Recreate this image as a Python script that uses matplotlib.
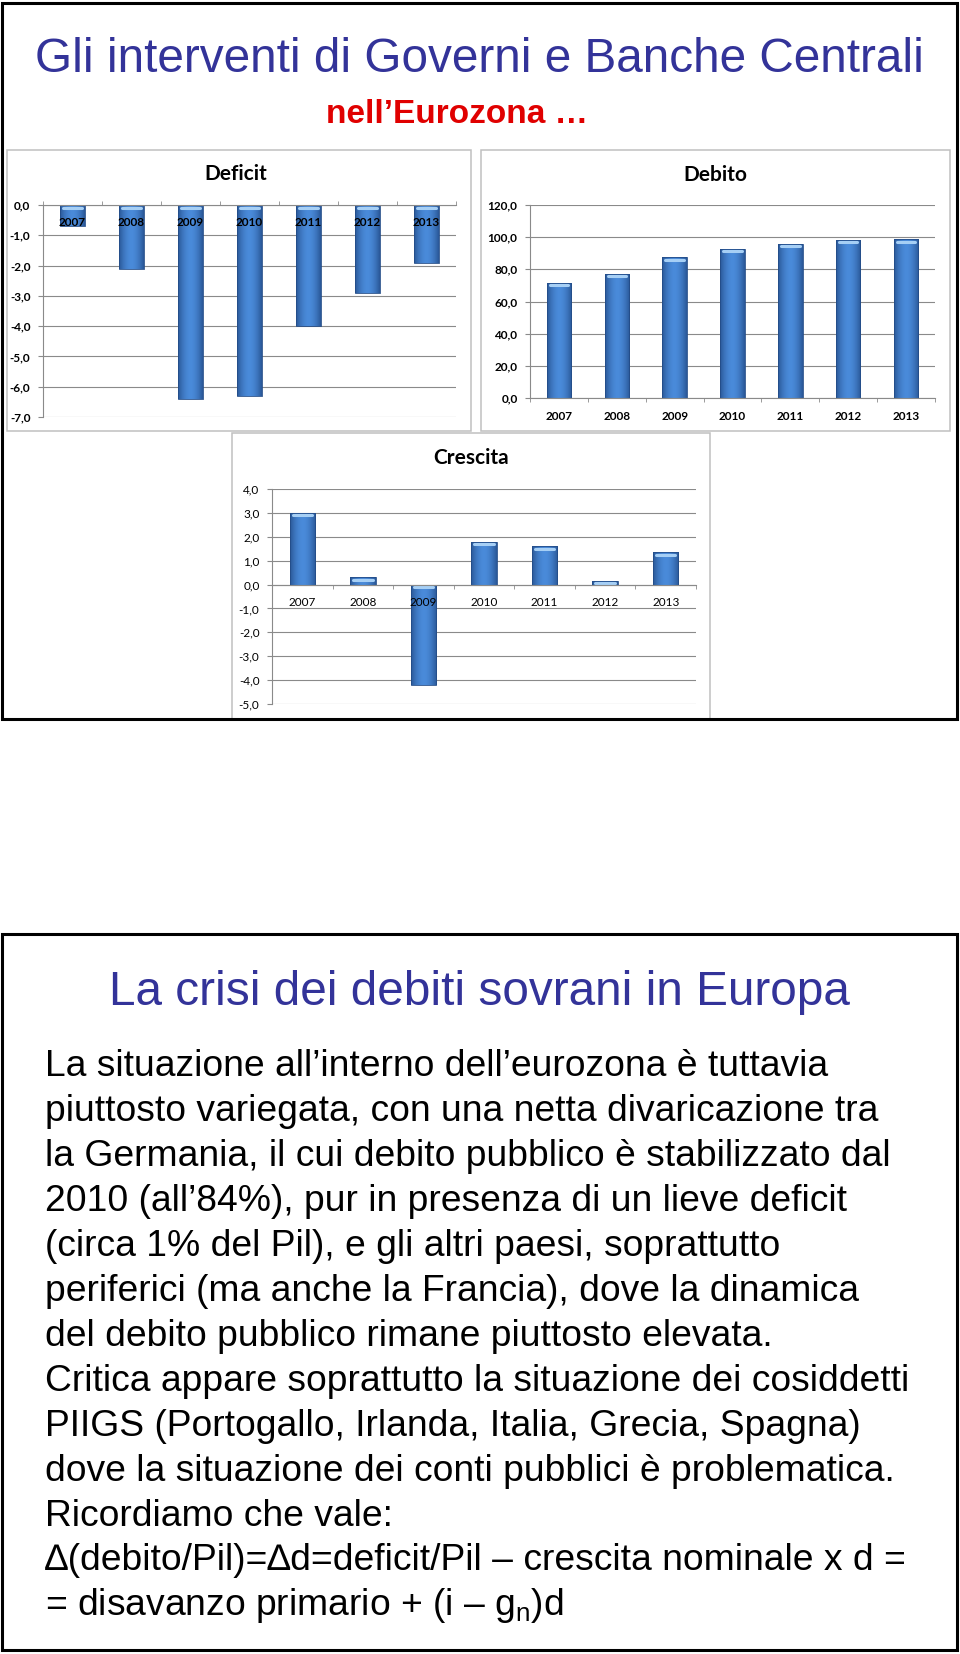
import numpy as np
import matplotlib
matplotlib.use('Agg')
import matplotlib.pyplot as plt
import matplotlib.colors as mcolors
from matplotlib.patches import Rectangle
from matplotlib.ticker import FuncFormatter
from matplotlib import transforms

W, H = 960, 1654

# dati
anni = ['2007', '2008', '2009', '2010', '2011', '2012', '2013']
deficit = [-0.7, -2.1, -6.4, -6.3, -4.0, -2.9, -1.9]
debito = [71.8, 77.2, 87.5, 92.7, 96.0, 98.3, 98.7]
crescita = [3.0, 0.3, -4.2, 1.8, 1.6, 0.15, 1.35]

titolo = 'Gli interventi di Governi e Banche Centrali'
sottotitolo = 'nell’Eurozona …'
titolo2 = 'La crisi dei debiti sovrani in Europa'
righe = [
    'La situazione all’interno dell’eurozona è tuttavia',
    'piuttosto variegata, con una netta divaricazione tra',
    'la Germania, il cui debito pubblico è stabilizzato dal',
    '2010 (all’84%), pur in presenza di un lieve deficit',
    '(circa 1% del Pil), e gli altri paesi, soprattutto',
    'periferici (ma anche la Francia), dove la dinamica',
    'del debito pubblico rimane piuttosto elevata.',
    'Critica appare soprattutto la situazione dei cosiddetti',
    'PIIGS (Portogallo, Irlanda, Italia, Grecia, Spagna)',
    'dove la situazione dei conti pubblici è problematica.',
    'Ricordiamo che vale:',
    '∆(debito/Pil)=∆d=deficit/Pil – crescita nominale x d =',
    r'= disavanzo primario + (i – $\mathrm{g}_\mathrm{n}$)d',
]

plt.rcParams['font.family'] = ['Liberation Sans', 'DejaVu Sans']
plt.rcParams['mathtext.fontset'] = 'custom'
plt.rcParams['mathtext.rm'] = 'Liberation Sans'
plt.rcParams['mathtext.it'] = 'Liberation Sans:italic'

BLU = '#333399'
GRIGIO = '#8A8A8A'


def rect_px(x0, y0, x1, y1):
    return [x0 / W, 1 - y1 / H, (x1 - x0) / W, (y1 - y0) / H]


fig = plt.figure(figsize=(W / 100, H / 100), dpi=100)
bg = fig.add_axes([0, 0, 1, 1])
bg.set_xlim(0, W)
bg.set_ylim(H, 0)
bg.axis('off')

# riquadri dei grafici
for (x0, y0, x1, y1) in [(7, 150, 471, 431), (481, 150, 950, 431), (232, 433, 710, 719)]:
    bg.add_patch(Rectangle((x0, y0), x1 - x0, y1 - y0, facecolor='white',
                           edgecolor='#C0C0C0', lw=1.1, zorder=1))
# bordi delle slide
bg.add_patch(Rectangle((2, 3), 955, 716, fill=False, edgecolor='black', lw=2.2, zorder=3))
bg.add_patch(Rectangle((2, 934), 955, 716, fill=False, edgecolor='black', lw=2.2, zorder=3))

bg.text(479, 72, titolo, ha='center', va='baseline', fontsize=34.4, color=BLU)
bg.text(457, 123, sottotitolo, ha='center', va='baseline', fontsize=24,
        fontweight='bold', color='#E00000')
bg.text(479.5, 1005, titolo2, ha='center', va='baseline', fontsize=34.4, color=BLU)
for i, r in enumerate(righe):
    bg.text(45, 1076 + 44.95 * i, r, ha='left', va='baseline', fontsize=26.8, color='black')

# sfumatura delle barre
bordo = np.array(mcolors.to_rgb('#2A5898'))
centro = np.array(mcolors.to_rgb('#4A8BDA'))
t = np.linspace(0, 1, 40)
peso = 1 - np.abs(2 * t - 1) ** 1.8
grad = (bordo[None, :] * (1 - peso[:, None]) + centro[None, :] * peso[:, None])[None, :, :]

x = np.arange(len(anni))


def barre(ax, valori):
    bars = ax.bar(x, valori, width=0.42, color='#3A75C4', lw=0, zorder=2)
    for b in bars:
        x0, bw = b.get_x(), b.get_width()
        y0, y1 = sorted([b.get_y(), b.get_y() + b.get_height()])
        im = ax.imshow(grad, extent=(x0, x0 + bw, y0, y1), aspect='auto',
                       interpolation='bilinear', zorder=2.1)
        im.set_clip_path(b)
    ax.bar(x, valori, width=0.42, fill=False, edgecolor='#234C88', lw=0.6, zorder=2.2)
    cap_tr = transforms.offset_copy(ax.transData, fig=fig, x=0, y=-2.5, units='dots')
    for xi, v in zip(x, valori):
        top = max(v, 0)
        ax.plot([xi - 0.16, xi + 0.16], [top, top], transform=cap_tr, color='#A6CFF5',
                lw=2.2, solid_capstyle='round', zorder=2.3)


def imposta(ax, y0, y1, passo, peso_font, verso):
    ax.set_xlim(-0.5, 6.5)
    ax.set_ylim(y0, y1)
    ax.set_yticks(np.arange(y0, y1 + passo / 2, passo))
    ax.yaxis.set_major_formatter(FuncFormatter(lambda v, p: f'{v:.1f}'.replace('.', ',')))
    ax.grid(axis='y', color=GRIGIO, lw=0.8)
    ax.set_axisbelow(True)
    for s in ['top', 'right']:
        ax.spines[s].set_visible(False)
    ax.spines['bottom'].set_position(('data', 0))
    ax.spines['left'].set_color(GRIGIO)
    ax.spines['bottom'].set_color(GRIGIO)
    ax.spines['left'].set_linewidth(0.8)
    ax.spines['bottom'].set_linewidth(0.8)
    ax.set_xticks(x, anni)
    ax.set_xticks(np.arange(-0.5, 7), minor=True)
    ax.tick_params(axis='x', which='major', length=0, pad=9)
    ax.tick_params(axis='x', which='minor', length=3, color=GRIGIO, direction=verso)
    ax.tick_params(axis='y', length=3.5, color=GRIGIO, pad=5.5)
    for lab in ax.get_xticklabels() + ax.get_yticklabels():
        lab.set_fontfamily('Lato')
        lab.set_fontsize(8.5)
        lab.set_fontweight(peso_font)
    ax.xaxis.set_zorder(5)
    ax.patch.set_alpha(0)


ax1 = fig.add_axes(rect_px(43, 205, 456, 417))
barre(ax1, deficit)
imposta(ax1, -7, 0, 1, 'bold', 'in')
bg.text(236, 174, 'Deficit', ha='center', va='center', fontsize=15,
        fontweight='bold', family='Lato')

ax2 = fig.add_axes(rect_px(530, 205, 935, 398))
barre(ax2, debito)
imposta(ax2, 0, 120, 20, 'bold', 'out')
bg.text(715, 175, 'Debito', ha='center', va='center', fontsize=15,
        fontweight='bold', family='Lato')

ax3 = fig.add_axes(rect_px(272, 489, 696, 704))
barre(ax3, crescita)
imposta(ax3, -5, 4, 1, 'normal', 'out')
bg.text(471, 458, 'Crescita', ha='center', va='center', fontsize=15,
        fontweight='bold', family='Lato')

fig.savefig('out.png', dpi=100, facecolor='white')
